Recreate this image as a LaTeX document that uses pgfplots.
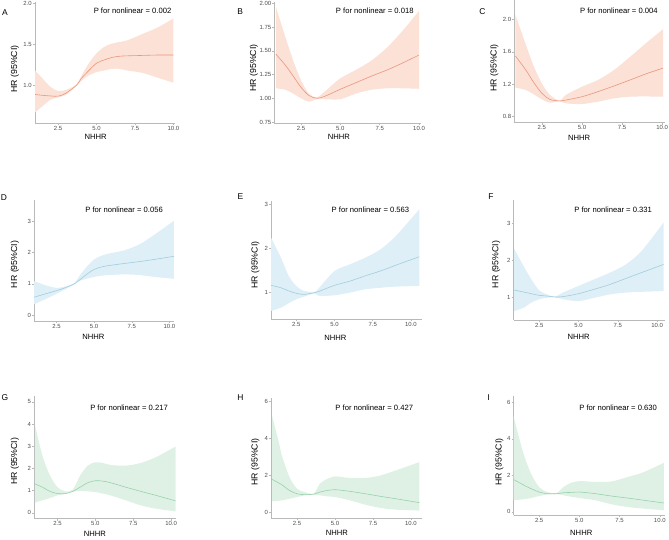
\documentclass[border=0pt]{standalone}
\usepackage{fontspec}
\setmainfont{Liberation Sans}
\usepackage{pgfplots}
\usepackage{pgfplotstable}
\pgfplotsset{compat=1.18}
\usepgfplotslibrary{fillbetween}

\definecolor{axgray}{RGB}{185,185,185}
\definecolor{tkgray}{RGB}{77,77,77}
\definecolor{redfill}{RGB}{251,225,214}
\definecolor{redline}{RGB}{236,150,125}
\definecolor{bluefill}{RGB}{223,239,247}
\definecolor{blueline}{RGB}{160,205,222}
\definecolor{greenfill}{RGB}{223,241,229}
\definecolor{greenline}{RGB}{150,210,170}

% x  est  lo  hi
\pgfplotstableread{
x est lo hi
1.0 0.886 0.665 1.18
1.5 0.875 0.745 1.08
2.0 0.868 0.82 0.98
2.5 0.865 0.85 0.93
3.0 0.90 0.88 0.94
3.7 1.0 0.99 1.01
4.0 1.08 1.05 1.11
4.5 1.18 1.12 1.27
5.0 1.27 1.16 1.39
5.5 1.31 1.18 1.47
6.0 1.34 1.20 1.51
6.5 1.355 1.20 1.53
7.0 1.36 1.18 1.55
8.0 1.365 1.15 1.63
9.0 1.37 1.09 1.71
10.0 1.37 1.03 1.82
}\dataA
\pgfplotstableread{
x est lo hi
0.9 1.466 1.105 1.965
1.5 1.35 1.09 1.65
2.0 1.235 1.05 1.40
2.5 1.116 1.0 1.19
3.0 1.03 0.965 1.05
3.5 1.0 0.99 1.01
4.0 1.02 0.99 1.07
5.0 1.095 0.99 1.21
6.0 1.165 1.05 1.30
7.0 1.235 1.09 1.40
8.0 1.30 1.105 1.54
9.0 1.375 1.105 1.72
10.0 1.456 1.10 1.92
}\dataB
\pgfplotstableread{
x est lo hi
0.85 1.55 1.16 2.06
1.5 1.377 1.13 1.69
2.0 1.22 1.076 1.42
2.5 1.09 1.014 1.21
3.0 1.014 0.973 1.07
3.6 0.995 0.99 1.0
4.0 1.006 0.965 1.07
5.0 1.047 0.957 1.17
6.0 1.11 0.986 1.254
7.0 1.18 1.027 1.377
8.0 1.254 1.047 1.54
9.0 1.33 1.05 1.71
10.05 1.40 1.047 1.88
}\dataC
\pgfplotstableread{
x est lo hi
1.0 0.57 0.34 1.085
1.5 0.64 0.45 1.0
2.0 0.71 0.56 0.92
2.5 0.78 0.68 0.87
3.0 0.86 0.80 0.90
3.7 1.0 0.98 1.03
4.0 1.11 1.085 1.24
4.5 1.30 1.16 1.54
5.0 1.46 1.22 1.78
5.5 1.54 1.26 1.90
6.0 1.585 1.28 1.97
7.0 1.65 1.30 2.07
8.0 1.71 1.28 2.26
9.0 1.78 1.22 2.57
10.3 1.88 1.16 3.02
}\dataD
\pgfplotstableread{
x est lo hi
0.85 1.166 0.585 2.245
1.5 1.11 0.66 1.79
2.0 1.04 0.76 1.38
2.5 0.985 0.85 1.15
3.0 0.96 0.91 1.04
3.7 1.0 0.98 1.02
4.0 1.03 0.925 1.11
5.0 1.166 0.94 1.49
6.0 1.26 1.0 1.64
7.0 1.38 1.075 1.79
8.0 1.49 1.11 1.98
9.0 1.62 1.136 2.28
10.55 1.815 1.15 2.89
}\dataE
\pgfplotstableread{
x est lo hi
0.9 1.19 0.62 2.31
1.5 1.135 0.71 1.84
2.0 1.09 0.85 1.48
2.5 1.045 0.94 1.18
3.0 1.027 0.98 1.07
3.5 1.0 0.995 1.01
4.0 1.01 0.94 1.12
5.0 1.09 0.89 1.30
6.0 1.21 0.98 1.48
7.0 1.34 1.07 1.66
8.0 1.50 1.12 1.88
9.0 1.66 1.14 2.24
10.4 1.88 1.16 3.01
}\dataF
\pgfplotstableread{
x est lo hi
1.0 1.31 0.46 4.0
1.5 1.16 0.57 2.58
2.0 0.97 0.67 1.69
2.5 0.87 0.79 1.16
3.0 0.87 0.85 0.97
3.5 0.97 0.95 1.04
4.0 1.16 0.99 1.69
4.5 1.36 0.97 2.13
5.0 1.45 0.94 2.28
5.5 1.43 0.87 2.25
6.0 1.36 0.79 2.16
7.0 1.16 0.57 2.13
8.0 0.97 0.34 2.25
9.0 0.79 0.19 2.51
10.3 0.54 0.07 2.99
}\dataG
\pgfplotstableread{
x est lo hi
0.85 1.80 0.61 5.24
1.3 1.60 0.64 3.81
1.5 1.51 0.66 3.09
2.0 1.20 0.75 1.92
2.5 1.02 0.84 1.29
3.0 0.97 0.93 1.11
3.6 1.0 0.97 1.03
4.0 1.11 0.93 1.56
4.5 1.20 0.88 1.83
5.0 1.24 0.84 1.96
5.5 1.20 0.76 1.92
6.0 1.15 0.66 1.87
7.0 1.02 0.43 1.87
8.0 0.88 0.25 2.01
9.0 0.75 0.16 2.28
10.55 0.54 0.11 2.73
}\dataH
\pgfplotstableread{
x est lo hi
0.9 1.78 0.64 5.27
1.5 1.49 0.69 3.27
2.0 1.27 0.76 2.09
2.5 1.09 0.87 1.36
3.0 1.0 0.95 1.09
3.6 1.0 0.98 1.04
4.0 1.05 0.91 1.36
4.5 1.07 0.83 1.6
5.0 1.09 0.76 1.69
5.5 1.05 0.70 1.67
6.0 1.0 0.64 1.64
7.0 0.87 0.42 1.67
8.0 0.76 0.27 1.91
9.0 0.64 0.18 2.18
10.25 0.49 0.09 2.69
}\dataI

\pgfplotsset{
  rcs/.style={
    scale only axis, anchor=south west,
    axis x line*=bottom, axis y line*=left,
    axis line style={draw=axgray, line width=0.7bp},
    tick style={draw=axgray, line width=0.5bp},
    tick align=outside, major tick length=2bp,
    xtick={2.5,5,7.5,10}, xticklabels={2.5,5.0,7.5,10.0},
    ticklabel style={font=\fontsize{6}{7}\selectfont, text=tkgray},
    xticklabel style={inner sep=1bp},
    yticklabel style={inner sep=1bp},
    /pgf/number format/assume math mode=true,
  },
}

% band + curve for one panel
\newcommand{\rcsband}[3]{%
  \addplot[name path=up, draw=none, smooth] table[x=x, y=hi] {#1};
  \addplot[name path=dn, draw=none, smooth] table[x=x, y=lo] {#1};
  \addplot[fill=#2, draw=none] fill between[of=up and dn];
  \addplot[#3, line width=0.6bp, smooth] table[x=x, y=est] {#1};
}

\begin{document}
\begin{tikzpicture}

% row 1
\begin{axis}[rcs, at={(35bp,417.7bp)}, width=140.6bp, height=121.6bp,
  xmin=0.99, xmax=10.1, ymin=0.533, ymax=2.02,
  ytick={1,1.5,2}, yticklabels={1.0,1.5,2.0}]
\rcsband{\dataA}{redfill}{redline}
\end{axis}
\begin{axis}[rcs, at={(275.3bp,417.7bp)}, width=146.7bp, height=121.6bp,
  xmin=0.81, xmax=10.1, ymin=0.737, ymax=2.014,
  ytick={0.75,1,1.25,1.5,1.75,2}, yticklabels={0.75,1.00,1.25,1.50,1.75,2.00}]
\rcsband{\dataB}{redfill}{redline}
\end{axis}
\begin{axis}[rcs, at={(516bp,418.3bp)}, width=151bp, height=122.7bp,
  xmin=0.78, xmax=10.16, ymin=0.727, ymax=2.237,
  ytick={0.8,1.2,1.6,2.0}, yticklabels={0.8,1.2,1.6,2.0}]
\rcsband{\dataC}{redfill}{redline}
\end{axis}

% row 2
\begin{axis}[rcs, at={(34.3bp,219.3bp)}, width=140.7bp, height=121bp,
  xmin=1.02, xmax=10.33, ymin=-0.19, ymax=3.67,
  ytick={0,1,2,3}]
\rcsband{\dataD}{bluefill}{blueline}
\end{axis}
\begin{axis}[rcs, at={(272bp,221bp)}, width=151bp, height=118.3bp,
  xmin=0.85, xmax=10.7, ymin=0.396, ymax=3.07,
  ytick={1,2,3}]
\rcsband{\dataE}{bluefill}{blueline}
\end{axis}
\begin{axis}[rcs, at={(515.3bp,220.3bp)}, width=151.7bp, height=120.7bp,
  xmin=0.87, xmax=10.48, ymin=0.38, ymax=3.63,
  ytick={1,2,3}]
\rcsband{\dataF}{bluefill}{blueline}
\end{axis}

% row 3
\begin{axis}[rcs, at={(34.3bp,21bp)}, width=142.4bp, height=122.7bp,
  xmin=0.96, xmax=10.33, ymin=-0.256, ymax=5.25,
  ytick={0,1,2,3,4,5}]
\rcsband{\dataG}{greenfill}{greenline}
\end{axis}
\begin{axis}[rcs, at={(272bp,21.7bp)}, width=151bp, height=120bp,
  xmin=0.79, xmax=10.7, ymin=-0.286, ymax=6.18,
  ytick={0,2,4,6}]
\rcsband{\dataH}{greenfill}{greenline}
\end{axis}
\begin{axis}[rcs, at={(515.3bp,24.3bp)}, width=151.7bp, height=119.4bp,
  xmin=0.91, xmax=10.31, ymin=-0.185, ymax=6.33,
  ytick={0,2,4,6}]
\rcsband{\dataI}{greenfill}{greenline}
\end{axis}

% panel letters, titles and axis labels
\tikzset{lab/.style={font=\fontsize{7.7}{9}\selectfont, inner sep=0pt},
         hrl/.style={font=\fontsize{8.8}{10}\selectfont, inner sep=0pt, rotate=90},
         let/.style={font=\fontsize{8.5}{10}\selectfont, inner sep=0pt}}
\foreach \L/\lx/\ly/\px/\py/\pv/\hx/\hy/\nx/\ny in {
  A/5/529/133/531/0.002/15/472/96/404,
  B/241/530/376/531/0.018/254.7/473/340/404,
  C/484/530/621/531/0.004/496/473/581/403.3,
  D/4/342.7/124.5/331/0.056/15/276/93.7/203.7,
  E/241.3/344.3/371.7/331/0.563/256.3/275.3/336.5/202.7,
  F/492.7/344.3/615.2/331/0.331/497.7/276/580.5/203.7,
  G/5/142.7/129.5/132.7/0.217/15/78.5/95.2/5.3,
  H/241.3/142.7/375.5/132.7/0.427/256.3/77.7/338/7,
  I/490.3/142.7/620.2/132.7/0.630/501/77.7/583.2/7}{
  \node[let] at (\lx bp,\ly bp) {\L};
  \node[lab] at (\px bp,\py bp) {P for nonlinear = \pv};
  \node[hrl] at (\hx bp,\hy bp) {HR (95\%CI)};
  \node[lab] at (\nx bp,\ny bp) {NHHR};
}
\path (0,0) rectangle (669bp,541bp);
\end{tikzpicture}
\end{document}
